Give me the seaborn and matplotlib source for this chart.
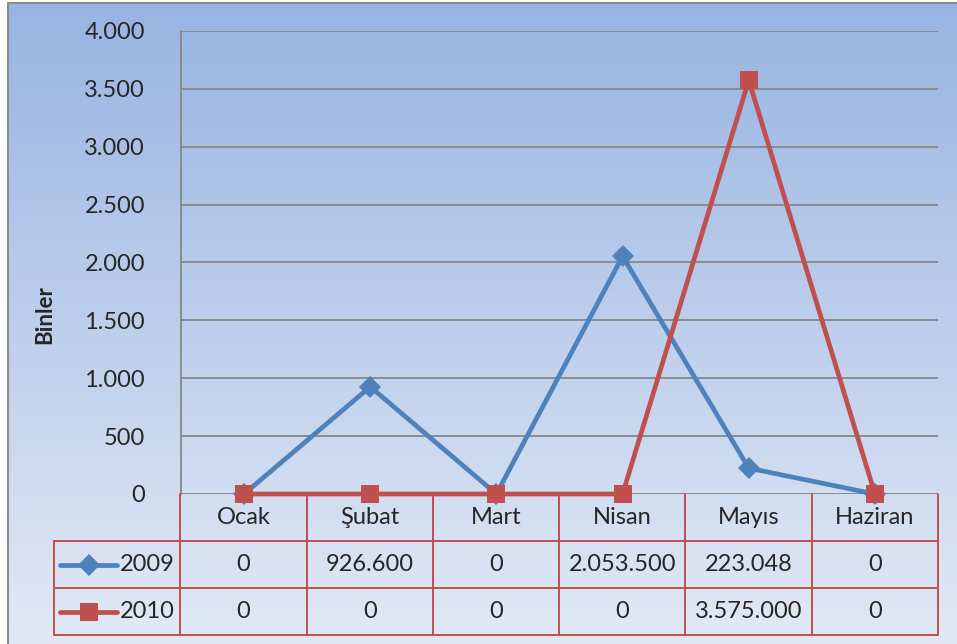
import numpy as np
import pandas as pd
import matplotlib
matplotlib.use("Agg")
import matplotlib.pyplot as plt
from matplotlib.lines import Line2D
import seaborn as sns

months = ["Ocak", "Şubat", "Mart", "Nisan", "Mayıs", "Haziran"]
years = ["2009", "2010"]
values_2009 = [0, 926600, 0, 2053500, 223048, 0]
values_2010 = [0, 0, 0, 0, 3575000, 0]
yticks = [0, 500, 1000, 1500, 2000, 2500, 3000, 3500, 4000]

BLUE = "#4F81BD"
RED = "#C0504D"
GRID = "#868686"
FS = 17

sns.set_theme(style="white")
plt.rcParams["font.family"] = ["Lato", "DejaVu Sans"]

df = pd.DataFrame({
    "Ay": months * 2,
    "Yil": ["2009"] * 6 + ["2010"] * 6,
    "Deger": [v / 1000 for v in values_2009 + values_2010],
})

W, H = 957, 644
fig = plt.figure(figsize=(W / 100, H / 100), dpi=100)

# background gradient
bg = fig.add_axes([8 / W, 0, 1 - 8 / W, 1 - 3 / H], zorder=-10)
grad = np.linspace(0, 1, 256).reshape(-1, 1)
top = np.array([0x98, 0xB4, 0xE2]) / 255
bot = np.array([0xE2, 0xE9, 0xF5]) / 255
img = top + (bot - top) * grad[..., None]
bg.imshow(img, aspect="auto", extent=[0, 1, 0, 1])
bg.set_axis_off()
fig.add_artist(Line2D([8 / W, 8 / W], [0, 1 - 3 / H], color="#8C8C8C", lw=1.5))
fig.add_artist(Line2D([8 / W, 1], [1 - 3 / H, 1 - 3 / H], color="#8C8C8C", lw=1.5))

# main chart
ax = fig.add_axes([181 / W, 1 - 494 / H, (938 - 181) / W, (494 - 31) / H])
ax.set_facecolor("none")
sns.lineplot(data=df, x="Ay", y="Deger", hue="Yil", style="Yil",
             palette={"2009": BLUE, "2010": RED},
             markers={"2009": "D", "2010": "s"}, dashes=False,
             sort=False, linewidth=3.4, legend=False, ax=ax)
for ln, ms in zip(ax.lines, [11, 13.5]):
    ln.set_markersize(ms)
    ln.set_markeredgewidth(0)
    ln.set_clip_on(False)
ax.lines[1].set_zorder(5)
ax.set_xlim(-0.5, 5.5)
ax.set_ylim(0, 4000)
ax.set_yticks(yticks)
ax.set_yticklabels([f"{t:,}".replace(",", ".") for t in yticks], fontsize=FS)
ax.tick_params(axis="y", length=0, pad=26)
ax.set_xticks([])
ax.set_xlabel("")
ax.set_ylabel("")
for t in yticks:
    ax.axhline(t, color=GRID, lw=1.3, zorder=0)
for s in ["top", "right", "bottom"]:
    ax.spines[s].set_visible(False)
ax.spines["left"].set_color(GRID)
ax.spines["left"].set_linewidth(1.3)

fig.text(45 / W, 1 - 315 / H, "Binler", rotation=90, ha="center", va="center",
         fontsize=16, fontweight="bold")

# data table
tax = fig.add_axes([54 / W, 1 - 635 / H, (938 - 54) / W, (635 - 494) / H])
tax.set_xlim(-1.5, 5.5)
tax.set_ylim(0, 3)
tax.set_axis_off()
lw = 1.4
tax.plot([-1.5, 5.5], [0, 0], color=RED, lw=lw, clip_on=False)
tax.plot([-1.5, 5.5], [1, 1], color=RED, lw=lw, clip_on=False)
tax.plot([-1.5, 5.5], [2, 2], color=RED, lw=lw, clip_on=False)
tax.plot([-1.5, -1.5], [0, 2], color=RED, lw=lw, clip_on=False)
for x in np.arange(-0.5, 6, 1):
    tax.plot([x, x], [0, 3], color=RED, lw=lw, clip_on=False)

for i, m in enumerate(months):
    tax.text(i, 2.5, m, ha="center", va="center", fontsize=FS)
for row_y, vals in zip([1.5, 0.5], [values_2009, values_2010]):
    for i, v in enumerate(vals):
        tax.text(i, row_y, f"{v:,}".replace(",", "."), ha="center", va="center", fontsize=FS)

for row_y, name, col, mk, ms in [(1.5, "2009", BLUE, "D", 11), (0.5, "2010", RED, "s", 13.5)]:
    tax.plot([-1.45, -1.0], [row_y, row_y], color=col, lw=3.4, clip_on=False)
    tax.plot([-1.225], [row_y], marker=mk, color=col, ms=ms, mew=0, clip_on=False)
    tax.text(-0.98, row_y, name, ha="left", va="center", fontsize=FS)

fig.savefig("out.png", dpi=100)
